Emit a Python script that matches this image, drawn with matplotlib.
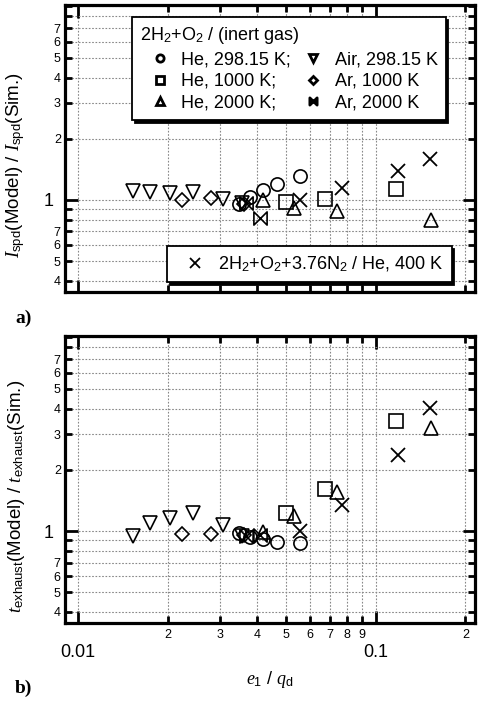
import numpy as np
import matplotlib
matplotlib.use("Agg")
import matplotlib.pyplot as plt
from matplotlib.path import Path
from matplotlib.ticker import LogLocator, FuncFormatter, NullFormatter

plt.rcParams['font.family'] = ['Liberation Sans', 'DejaVu Sans']
plt.rcParams['mathtext.fontset'] = 'custom'
plt.rcParams['mathtext.rm'] = 'Liberation Sans'
plt.rcParams['mathtext.it'] = 'Liberation Serif:italic'
plt.rcParams['mathtext.bf'] = 'Liberation Sans:bold'

# e1/qd values and ratios (a: Isp, b: t_exhaust)
x_he298 = [0.0348, 0.0379, 0.0418, 0.0467, 0.0555]
a_he298 = [0.955, 1.035, 1.115, 1.20, 1.31]
b_he298 = [0.98, 0.94, 0.91, 0.88, 0.875]

x_he1000 = [0.0499, 0.0676, 0.117]
a_he1000 = [0.975, 1.005, 1.13]
b_he1000 = [1.22, 1.61, 3.49]

x_he2000 = [0.0418, 0.0530, 0.0743, 0.153]
a_he2000 = [1.00, 0.91, 0.885, 0.795]
b_he2000 = [0.99, 1.19, 1.56, 3.21]

x_air = [0.0153, 0.0175, 0.0204, 0.0244, 0.0306, 0.0355]
a_air = [1.10, 1.09, 1.08, 1.09, 1.01, 0.96]
b_air = [0.95, 1.10, 1.16, 1.23, 1.07, 0.95]

x_ar1000 = [0.0223, 0.0279, 0.0360]
a_ar1000 = [1.00, 1.02, 0.95]
b_ar1000 = [0.97, 0.97, 0.96]

x_ar2000 = [0.0368, 0.0409]
a_ar2000 = [0.97, 0.81]
b_ar2000 = [0.95, 0.96]

x_n2 = [0.0557, 0.0769, 0.119, 0.152]
a_n2 = [1.00, 1.14, 1.38, 1.58]
b_n2 = [1.00, 1.34, 2.37, 4.03]

# bowtie marker
bowtie = Path([(-1, -1), (-1, 1), (1, -1), (1, 1), (-1, -1)],
              [Path.MOVETO, Path.LINETO, Path.LINETO, Path.LINETO, Path.CLOSEPOLY])

series = [
    ('He, 298.15 K;', 'o', 9.5, x_he298, a_he298, b_he298),
    ('He, 1000 K;', 's', 9.5, x_he1000, a_he1000, b_he1000),
    ('He, 2000 K;', '^', 10, x_he2000, a_he2000, b_he2000),
    ('Air, 298.15 K', 'v', 10, x_air, a_air, b_air),
    ('Ar, 1000 K', 'D', 7, x_ar1000, a_ar1000, b_ar1000),
    ('Ar, 2000 K', bowtie, 9.5, x_ar2000, a_ar2000, b_ar2000),
]


def minor_fmt(v, pos, show):
    d = int(round(v / 10 ** np.floor(np.log10(v) + 1e-9)))
    return str(d) if d in show else ''


def major_fmt(v, pos):
    if abs(v - 1) < 1e-9:
        return '1'
    if v < 1:
        return f'{v:g}'
    return ''


def style_axes(ax, show_xlabels):
    ax.set_xscale('log')
    ax.set_yscale('log')
    ax.set_xlim(0.00904, 0.2155)
    ax.set_ylim(0.353, 9.1)
    ax.xaxis.set_major_locator(LogLocator(base=10))
    ax.xaxis.set_minor_locator(LogLocator(base=10, subs=np.arange(2, 10)))
    ax.yaxis.set_major_locator(LogLocator(base=10))
    ax.yaxis.set_minor_locator(LogLocator(base=10, subs=np.arange(2, 10)))
    ax.yaxis.set_major_formatter(FuncFormatter(major_fmt))
    ax.yaxis.set_minor_formatter(FuncFormatter(lambda v, p: minor_fmt(v, p, range(2, 8))))
    if show_xlabels:
        ax.xaxis.set_major_formatter(FuncFormatter(major_fmt))
        ax.xaxis.set_minor_formatter(FuncFormatter(lambda v, p: minor_fmt(v, p, range(2, 10))))
    else:
        ax.xaxis.set_major_formatter(NullFormatter())
        ax.xaxis.set_minor_formatter(NullFormatter())
    ax.tick_params(which='both', direction='in', top=True, right=True, colors='black')
    ax.tick_params(which='major', length=9, width=2)
    ax.tick_params(which='minor', length=5, width=2)
    ax.tick_params(axis='x', which='major', labelsize=13, pad=15)
    ax.tick_params(axis='x', which='minor', labelsize=9, pad=4)
    ax.tick_params(axis='y', which='major', labelsize=13, pad=8)
    ax.tick_params(axis='y', which='minor', labelsize=9, pad=3)
    for s in ax.spines.values():
        s.set_linewidth(2.3)
    ax.grid(True, which='both', color='#888888', linestyle=(0, (1.5, 1.5)), linewidth=0.8)
    ax.set_axisbelow(True)


fig = plt.figure(figsize=(4.8, 7.05), dpi=100)
ax1 = fig.add_axes([0.1354, 0.5862, 0.8542, 0.4067])
ax2 = fig.add_axes([0.1354, 0.1163, 0.8542, 0.4071])

for ax, idx in [(ax1, 4), (ax2, 5)]:
    style_axes(ax, ax is ax2)
    handles = []
    for s in series:
        h, = ax.plot(s[3], s[idx], linestyle='none', marker=s[1], markersize=s[2],
                     markerfacecolor='none', markeredgecolor='black', markeredgewidth=1.2,
                     label=s[0])
        handles.append(h)
    yv = a_n2 if ax is ax1 else b_n2
    hx, = ax.plot(x_n2, yv, linestyle='none', marker='x', markersize=10,
                  markeredgecolor='black', markeredgewidth=1.3,
                  label=r'2H$_2$+O$_2$+3.76N$_2$ / He, 400 K')
    if ax is ax1:
        leg1 = ax.legend(handles=handles, ncol=2, loc='upper left',
                         bbox_to_anchor=(0.163, 0.958), borderaxespad=0,
                         title=r'2H$_2$+O$_2$ / (inert gas)', title_fontsize=13,
                         alignment='left', fontsize=13, markerscale=0.55,
                         handlelength=2.2, handletextpad=0.1, columnspacing=0.1,
                         labelspacing=0.27, borderpad=0.45, fancybox=False,
                         shadow={'color': 'black', 'alpha': 1.0}, framealpha=1,
                         edgecolor='black')
        leg1.get_frame().set_linewidth(1.3)
        for lh in leg1.legend_handles:
            lh.set_markeredgewidth(2.0)
        ax.add_artist(leg1)
        leg2 = ax.legend(handles=[hx], loc='lower left', bbox_to_anchor=(0.249, 0.034),
                         borderaxespad=0, fontsize=13, markerscale=0.7,
                         handlelength=2.2, handletextpad=0.15, borderpad=0.45,
                         fancybox=False, shadow={'color': 'black', 'alpha': 1.0},
                         framealpha=1, edgecolor='black')
        leg2.get_frame().set_linewidth(1.3)

ax1.set_ylabel(r'$\mathit{I}_{\mathrm{spd}}$(Model) / $\mathit{I}_{\mathrm{spd}}$(Sim.)',
               fontsize=13.5)
ax2.set_ylabel(r'$\mathit{t}_{\mathrm{exhaust}}$(Model) / $\mathit{t}_{\mathrm{exhaust}}$(Sim.)',
               fontsize=13.5)
ax1.yaxis.set_label_coords(-0.093, 0.44)
ax2.yaxis.set_label_coords(-0.093, 0.44)
ax2.set_xlabel(r'$\mathit{e}_{\mathrm{1}}$ / $\mathit{q}_{\mathrm{d}}$', fontsize=13, labelpad=6)

fig.text(0.031, 0.549, 'a)', fontsize=14, fontweight='bold', family='Liberation Serif',
         ha='left', va='center')
fig.text(0.031, 0.024, 'b)', fontsize=14, fontweight='bold', family='Liberation Serif',
         ha='left', va='center')

fig.savefig('out.png', dpi=100)
